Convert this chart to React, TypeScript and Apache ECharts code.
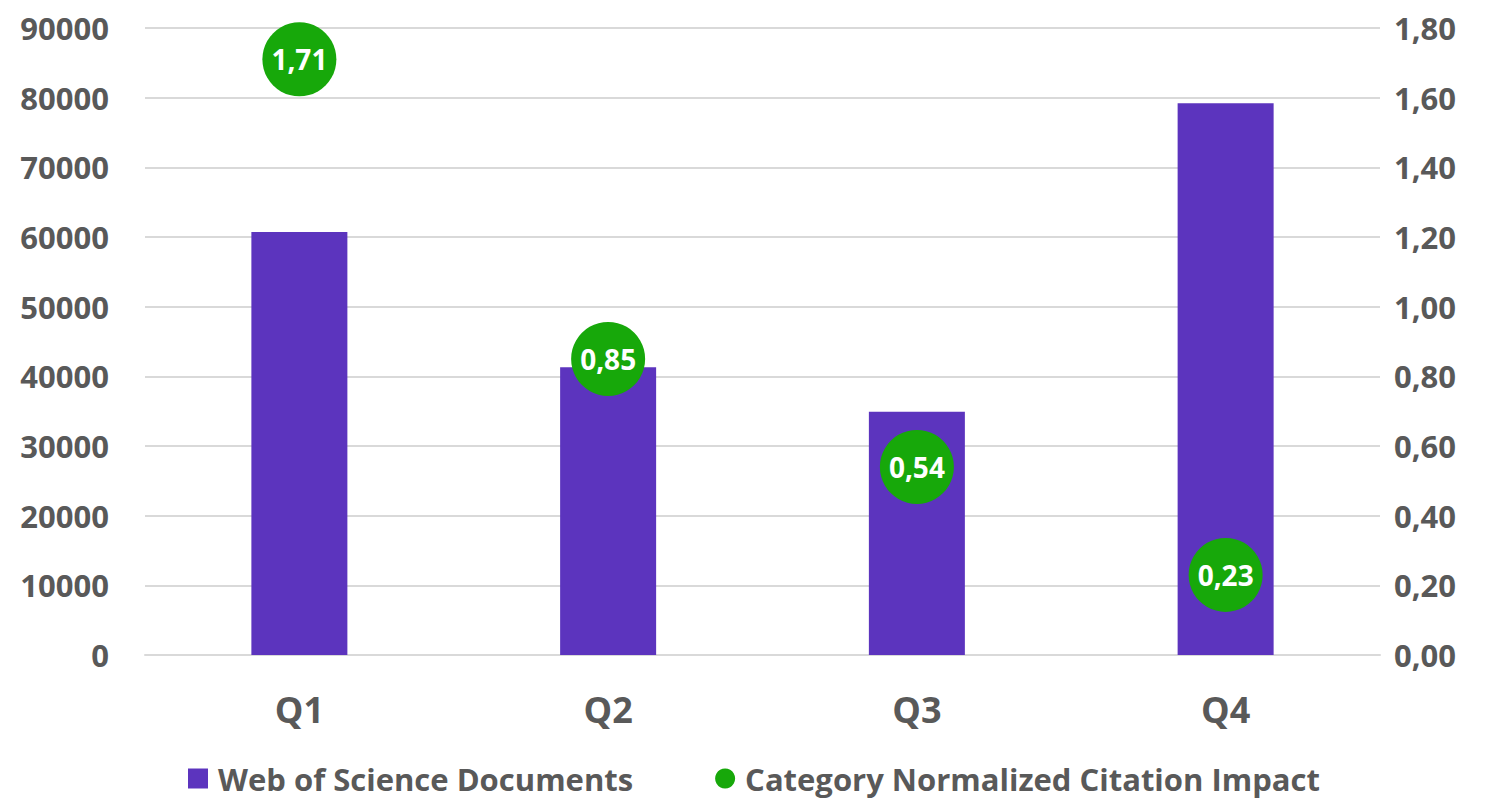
import React, { useEffect, useRef } from "react";
import * as echarts from "echarts";

const categories = ["Q1", "Q2", "Q3", "Q4"];
const documents = [60700, 41300, 34900, 79200];
const cnci = [1.71, 0.85, 0.54, 0.23];

const FONT = "'Open Sans', 'Liberation Sans', sans-serif";
const TEXT = "#595959";

export default function App() {
  const ref = useRef<HTMLDivElement>(null);
  useEffect(() => {
    const chart = echarts.init(ref.current!, null, { renderer: "svg" });
    chart.setOption({
      animation: false,
      textStyle: { fontFamily: FONT },
      grid: { left: 145, right: 106, top: 28, bottom: 144, containLabel: false },
      legend: {
        bottom: 0,
        left: 183,
        itemGap: 82,
        itemWidth: 20,
        itemHeight: 20,
        textStyle: {
          fontFamily: FONT,
          fontWeight: "bold",
          fontSize: 31,
          color: TEXT,
          padding: [0, 0, 0, 5],
        },
        data: [
          { name: "Web of Science Documents", icon: "rect" },
          { name: "Category Normalized Citation Impact", icon: "circle" },
        ],
      },
      xAxis: {
        type: "category",
        data: categories,
        axisLine: { lineStyle: { color: "#D9D9D9", width: 2 } },
        axisTick: { show: false },
        axisLabel: { fontFamily: FONT, fontWeight: "bold", fontSize: 36, color: TEXT, margin: 36 },
      },
      yAxis: [
        {
          type: "value",
          min: 0,
          max: 90000,
          interval: 10000,
          axisLine: { show: false },
          axisTick: { show: false },
          splitLine: { lineStyle: { color: "#D9D9D9", width: 2 } },
          axisLabel: {
            fontFamily: FONT,
            fontWeight: "bold",
            fontSize: 31,
            color: TEXT,
            margin: 36,
            formatter: (v: number) => String(v),
          },
        },
        {
          type: "value",
          min: 0,
          max: 1.8,
          interval: 0.2,
          axisLine: { show: false },
          axisTick: { show: false },
          splitLine: { show: false },
          axisLabel: {
            fontFamily: FONT,
            fontWeight: "bold",
            fontSize: 31,
            color: TEXT,
            margin: 14,
            formatter: (v: number) => v.toFixed(2).replace(".", ","),
          },
        },
      ],
      series: [
        {
          name: "Web of Science Documents",
          type: "bar",
          data: documents,
          barWidth: 96,
          itemStyle: { color: "#5C34BE" },
        },
        {
          name: "Category Normalized Citation Impact",
          type: "scatter",
          yAxisIndex: 1,
          data: cnci,
          symbolSize: 74,
          itemStyle: { color: "#17A80A", opacity: 1 },
          label: {
            show: true,
            position: "inside",
            fontFamily: FONT,
            fontWeight: "bold",
            fontSize: 28,
            color: "#FFFFFF",
            formatter: (p: any) => (p.value as number).toFixed(2).replace(".", ","),
          },
          z: 3,
        },
      ],
    });
    return () => chart.dispose();
  }, []);
  return (
    <div
      ref={ref}
      style={{ position: "fixed", left: 0, top: 0, width: 1486, height: 799, background: "#fff" }}
    />
  );
}
